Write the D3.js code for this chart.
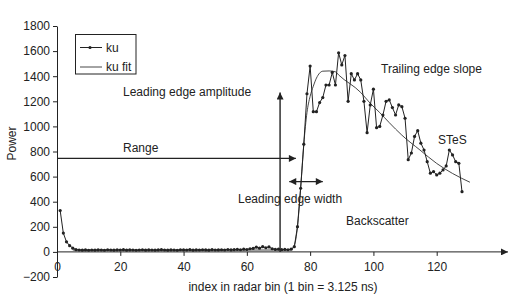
<!DOCTYPE html>
<html><head><meta charset="utf-8">
<script src="https://cdn.jsdelivr.net/npm/d3@7"></script>
<style>
html,body{margin:0;padding:0;background:#fff;}
svg{display:block;font-family:"Liberation Sans",Arial,Helvetica,sans-serif;}
</style></head><body>
<svg id="chart" width="513" height="299"></svg>
<script>
// ---- data ----
const kuStartIndex = 1;
const kuValues = [
  330,150,80,50,30,18,15,14,16,13,
  15,14,16,15,13,17,15,14,16,15,
  18,14,16,15,13,15,17,14,16,15,
  14,16,18,15,14,16,15,13,17,16,
  15,18,14,16,15,17,16,14,18,15,
  16,17,15,19,16,18,20,17,22,19,
  25,28,38,30,42,33,40,25,20,22,
  18,20,17,22,42,201,507,858,1260,1481,
  1117,1117,1190,1230,1330,1330,1430,1330,1587,1490,
  1565,1200,1420,1370,1420,1370,1200,950,1171,1297,
  990,1000,1090,1200,1211,1150,1091,1171,1157,1065,
  735,788,920,966,866,812,719,627,640,613,
  627,653,685,812,773,719,706,480
];
const fitIndex  = [5, 30, 60, 73, 74, 75, 76, 77, 78, 79, 80, 81, 82, 83, 84, 86, 88, 89, 96, 99, 102, 105, 109, 114.7, 120, 125, 130.5];
const fitValues = [15, 15, 15, 15, 18, 50, 200, 510, 860, 1110, 1240, 1320, 1385, 1425, 1440, 1442, 1435, 1410, 1270, 1184, 1110, 1030, 930, 812, 705, 625, 555];
const xTicks = [0, 20, 40, 60, 80, 100, 120];
const yTicks = [-200, 0, 200, 400, 600, 800, 1000, 1200, 1400, 1600, 1800];
const seriesNames = ["ku", "ku fit"];

// ---- chart ----
const ink = "#222";
const svg = d3.select("#chart");
const x = d3.scaleLinear().domain([0, 120]).range([57, 436.7]);
const y = d3.scaleLinear().domain([-200, 1800]).range([277, 26]);

const defs = svg.append("defs");
defs.append("marker").attr("id", "arr").attr("viewBox", "0 0 10 10")
  .attr("refX", 10).attr("refY", 5).attr("markerWidth", 8).attr("markerHeight", 7)
  .attr("markerUnits", "userSpaceOnUse").attr("orient", "auto-start-reverse")
  .append("path").attr("d", "M0,0L10,5L0,10z").attr("fill", ink);

// y axis
const gy = svg.append("g").attr("transform", "translate(57,0)")
  .call(d3.axisLeft(y).tickValues(yTicks).tickFormat(d3.format("d")).tickSize(4).tickSizeOuter(0).tickPadding(3));
gy.selectAll("text").attr("font-size", 12).attr("fill", ink).attr("font-family", "Liberation Sans, Arial, sans-serif");
gy.selectAll("line,path").attr("stroke", ink);

// x axis
const gx = svg.append("g").attr("transform", `translate(0,${y(0)})`)
  .call(d3.axisBottom(x).tickValues(xTicks).tickFormat(d3.format("d")).tickSize(4).tickSizeOuter(0).tickPadding(7));
gx.select(".domain").remove();
gx.selectAll("text").attr("font-size", 12).attr("fill", ink).attr("font-family", "Liberation Sans, Arial, sans-serif");
gx.selectAll("line").attr("stroke", ink);
svg.append("line").attr("x1", x(0)).attr("x2", 508).attr("y1", y(0)).attr("y2", y(0))
  .attr("stroke", ink).attr("stroke-width", 1).attr("marker-end", "url(#arr)");

// axis titles
svg.append("text").attr("transform", `translate(16,${(y(-200)+y(1800))/2 - 8}) rotate(-90)`)
  .attr("text-anchor", "middle").attr("font-size", 12).attr("fill", ink).text("Power");
svg.append("text").attr("x", 283).attr("y", 291)
  .attr("text-anchor", "middle").attr("font-size", 12).attr("fill", ink)
  .text("index in radar bin (1 bin = 3.125 ns)");

// data
const kuData = kuValues.map((v, i) => ({i: i + kuStartIndex, v}));
const fitData = fitIndex.map((i, k) => ({i, v: fitValues[k]}));

svg.append("path").datum(fitData)
  .attr("fill", "none").attr("stroke", "#333").attr("stroke-width", 0.9)
  .attr("d", d3.line().x(d => x(d.i)).y(d => y(d.v)).curve(d3.curveMonotoneX));

svg.append("path").datum(kuData)
  .attr("fill", "none").attr("stroke", ink).attr("stroke-width", 1)
  .attr("d", d3.line().x(d => x(d.i)).y(d => y(d.v)));
svg.append("g").selectAll("circle").data(kuData).join("circle")
  .attr("cx", d => x(d.i)).attr("cy", d => y(d.v)).attr("r", 1.6).attr("fill", ink);

// annotations
function arrow(x1, y1, x2, y2, both) {
  const l = svg.append("line").attr("x1", x1).attr("y1", y1).attr("x2", x2).attr("y2", y2)
    .attr("stroke", ink).attr("stroke-width", 1.4).attr("marker-end", "url(#arr)");
  if (both) l.attr("marker-start", "url(#arr)");
}
arrow(x(70.5), y(0), x(70.5), y(1270));           // leading edge amplitude
arrow(x(0), y(745), x(75.5), y(745));             // range
arrow(x(73.4), y(560), x(84), y(560), true);      // leading edge width

const notes = [
  {t: "Leading edge amplitude", x: 123, y: 96},
  {t: "Range", x: 123, y: 152},
  {t: "Leading edge width", x: 238, y: 203},
  {t: "Backscatter", x: 346, y: 225},
  {t: "Trailing edge slope", x: 381, y: 73},
  {t: "STeS", x: 438, y: 144}
];
svg.append("g").selectAll("text").data(notes).join("text")
  .attr("x", d => d.x).attr("y", d => d.y).attr("font-size", 12).attr("fill", ink).text(d => d.t);

// legend
const lg = svg.append("g");
lg.append("rect").attr("x", 75.5).attr("y", 34.5).attr("width", 60.5).attr("height", 39.5)
  .attr("fill", "#fff").attr("stroke", ink).attr("stroke-width", 1);
seriesNames.forEach((name, k) => {
  const yy = 47.5 + k * 19.5;
  lg.append("line").attr("x1", 80).attr("x2", 102).attr("y1", yy).attr("y2", yy)
    .attr("stroke", k === 0 ? ink : "#333").attr("stroke-width", k === 0 ? 1 : 0.9);
  if (k === 0) lg.append("circle").attr("cx", 90).attr("cy", yy).attr("r", 1.6).attr("fill", ink);
  lg.append("text").attr("x", 106).attr("y", yy + 4).attr("font-size", 12).attr("fill", ink).text(name);
});
</script>
</body></html>
